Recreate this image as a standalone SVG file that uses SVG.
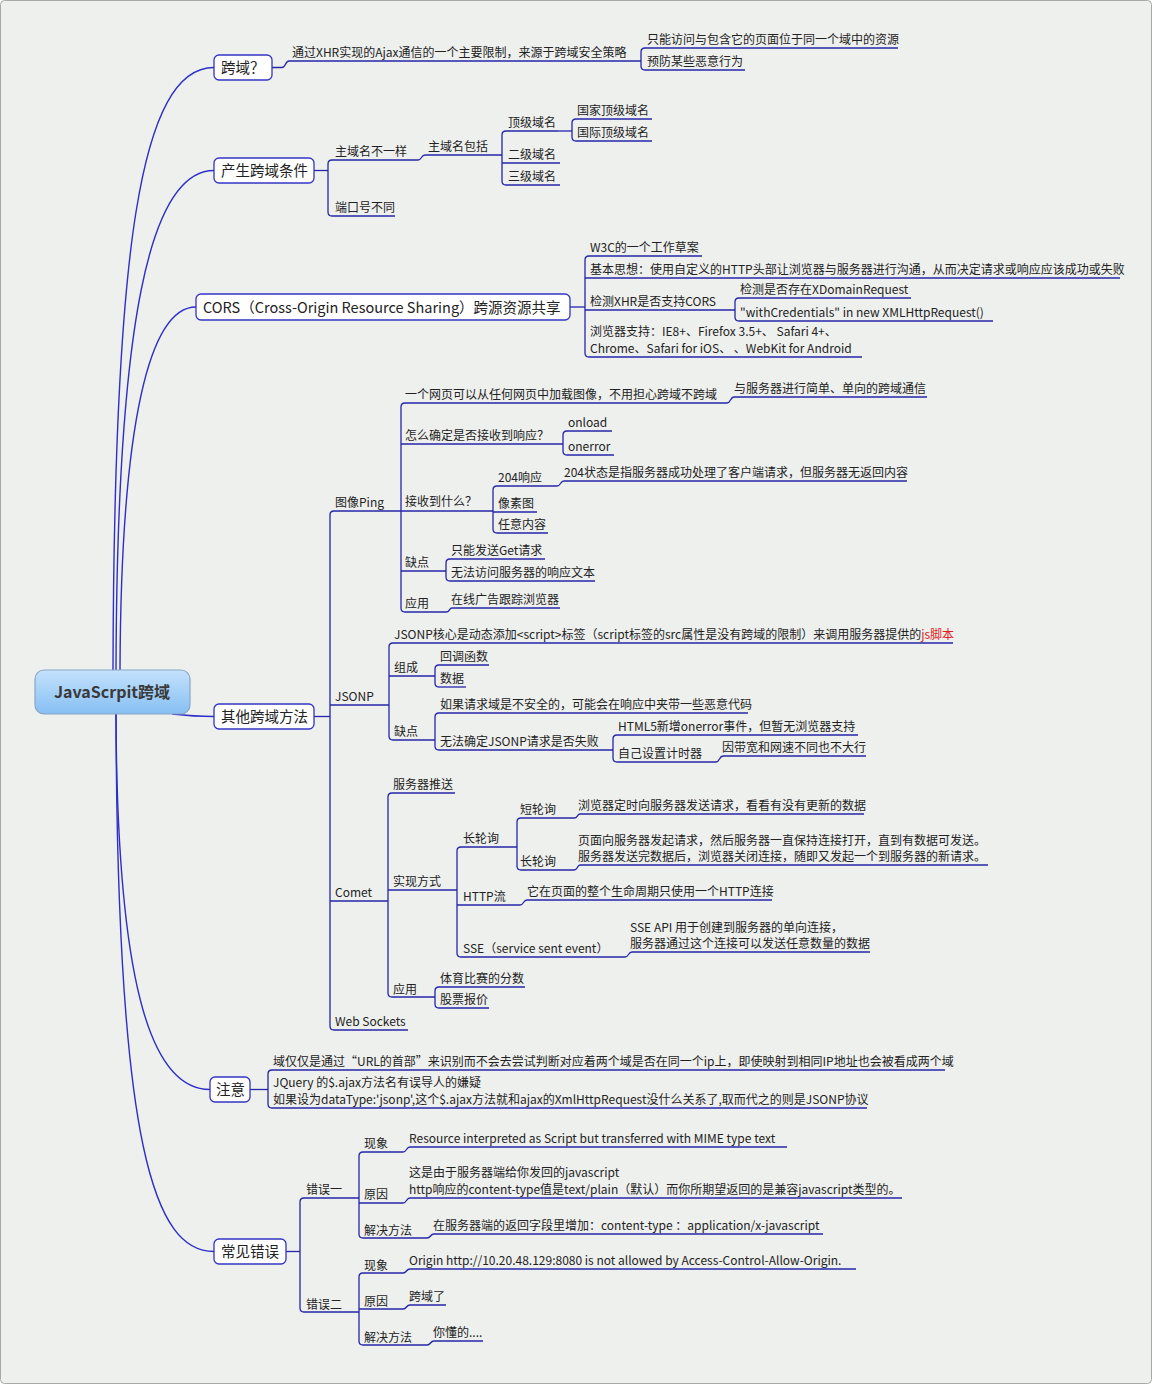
<svg xmlns="http://www.w3.org/2000/svg" width="1152" height="1384" viewBox="0 0 1152 1384">
<defs>
<linearGradient id="rootg" x1="0" y1="0" x2="0" y2="1">
<stop offset="0" stop-color="#c4e2fc"/>
<stop offset="1" stop-color="#86bff3"/>
</linearGradient>
<style>
text{font-family:"Noto Sans CJK SC","Noto Sans",sans-serif;font-size:12px;fill:#222}
.m{font-size:14.5px}
.r{font-size:16px;font-weight:bold;fill:#3a3a3a}
.u,.c{stroke:#2626aa;stroke-width:1.3;fill:none}
.mc{stroke:#2e2ec8;stroke-width:1.4;fill:none}
.box{fill:#fff;stroke:#3434c4;stroke-width:1.3}
.red{fill:#e02020}
</style>
</defs>
<rect x="0.5" y="0.5" width="1151" height="1383" rx="4" fill="#eef0ee" stroke="#a8a8a8"/>

<g id="connectors">
<path class="mc" d="M113 670 C114 250 140 67.5 214 67.5"/>
<path class="mc" d="M116 670 C117 320 150 170.5 214 170.5"/>
<path class="mc" d="M120 670 C121 420 150 307 196 307"/>
<path class="mc" d="M172 714 C190 716 200 716.5 214 716.5"/>
<path class="mc" d="M116 714 C117 1000 155 1089.5 210 1089.5"/>
<path class="mc" d="M116 714 C117 1150 155 1251.5 214 1251.5"/>
<path class="c" d="M272 67.5 H282 C286 67.5 285 61 289 61"/>
<path class="c" d="M645 48 Q641 48 641 52 V66 Q641 70 645 70"/>
<path class="c" d="M314 170.5 H328"/>
<path class="c" d="M332 160 Q328 160 328 164 V212 Q328 216 332 216"/>
<path class="c" d="M418 160 C422 160 421 155 425 155"/>
<path class="c" d="M506 131 Q502 131 502 135 V181 Q502 185 506 185"/>
<path class="c" d="M558 131 H572"/>
<path class="c" d="M576 119 Q572 119 572 123 V137 Q572 141 576 141"/>
<path class="c" d="M570 307 H585"/>
<path class="c" d="M589 256 Q585 256 585 260 V353 Q585 357 589 357"/>
<path class="c" d="M739 298 Q735 298 735 302 V317 Q735 321 739 321"/>
<path class="c" d="M314 716.5 H330"/>
<path class="c" d="M334 511 Q330 511 330 515 V1026 Q330 1030 334 1030"/>
<path class="c" d="M405 403 Q401 403 401 407 V608 Q401 612 405 612"/>
<path class="c" d="M727 403 C731 403 730 397 734 397"/>
<path class="c" d="M567 431 Q563 431 563 435 V451 Q563 455 567 455"/>
<path class="c" d="M497 486 Q493 486 493 490 V529 Q493 533 497 533"/>
<path class="c" d="M557 486 C561 486 560 481 564 481"/>
<path class="c" d="M450 559 Q446 559 446 563 V577 Q446 581 450 581"/>
<path class="c" d="M446 612 C450 612 449 608 452 608"/>
<path class="c" d="M393 643 Q389 643 389 647 V736 Q389 740 393 740"/>
<path class="c" d="M439 665 Q435 665 435 669 V683 Q435 687 439 687"/>
<path class="c" d="M439 713 Q435 713 435 717 V746 Q435 750 439 750"/>
<path class="c" d="M617 735 Q613 735 613 739 V758 Q613 762 617 762"/>
<path class="c" d="M716 762 C720 762 719 756 723 756"/>
<path class="c" d="M392 793 Q388 793 388 797 V993 Q388 997 392 997"/>
<path class="c" d="M461 847 Q457 847 457 851 V953 Q457 957 461 957"/>
<path class="c" d="M521 818 Q517 818 517 822 V866 Q517 870 521 870"/>
<path class="c" d="M574 818 C578 818 577 814 580 814"/>
<path class="c" d="M574 870 C578 870 577 865 580 865"/>
<path class="c" d="M520 905 C524 905 523 900 527 900"/>
<path class="c" d="M625 957 C629 957 628 952 632 952"/>
<path class="c" d="M439 987 Q435 987 435 991 V1004 Q435 1008 439 1008"/>
<path class="c" d="M250 1089.5 H268"/>
<path class="c" d="M272 1070 Q268 1070 268 1074 V1104 Q268 1108 272 1108"/>
<path class="c" d="M286 1251.5 H300"/>
<path class="c" d="M304 1198 Q300 1198 300 1202 V1308 Q300 1312 304 1312"/>
<path class="c" d="M363 1152 Q359 1152 359 1156 V1234 Q359 1238 363 1238"/>
<path class="c" d="M403 1152 C407 1152 406 1147 410 1147"/>
<path class="c" d="M403 1203 C407 1203 406 1198 410 1198"/>
<path class="c" d="M427 1238 C431 1238 430 1234 434 1234"/>
<path class="c" d="M363 1273 Q359 1273 359 1277 V1341 Q359 1345 363 1345"/>
<path class="c" d="M403 1273 C407 1273 406 1269 410 1269"/>
<path class="c" d="M403 1309 C407 1309 406 1305 410 1305"/>
<path class="c" d="M427 1345 C431 1345 430 1341 434 1341"/>
</g>

<g id="root">
<rect x="35" y="670" width="155" height="44" rx="9" fill="url(#rootg)" stroke="#8aa6c4" stroke-width="1.2"/>
<text class="r" x="112" y="698" text-anchor="middle">JavaScrpit跨域</text>
</g>

<g id="n-kuayu"><rect class="box" x="214" y="55" width="58" height="25" rx="5"/><text class="m" x="221" y="73">跨域？</text></g>
<g id="n-k1"><line class="u" x1="289" y1="61" x2="641" y2="61"/><text x="292" y="57">通过XHR实现的Ajax通信的一个主要限制，来源于跨域安全策略</text></g>
<g id="n-k2"><line class="u" x1="645" y1="48" x2="898" y2="48"/><text x="647" y="44">只能访问与包含它的页面位于同一个域中的资源</text></g>
<g id="n-k3"><line class="u" x1="645" y1="70" x2="745" y2="70"/><text x="647" y="66">预防某些恶意行为</text></g>

<g id="n-chansheng"><rect class="box" x="214" y="158" width="100" height="25" rx="5"/><text class="m" x="221" y="176">产生跨域条件</text></g>
<g id="n-c1"><line class="u" x1="332" y1="160" x2="418" y2="160"/><text x="335" y="156">主域名不一样</text></g>
<g id="n-c2"><line class="u" x1="332" y1="216" x2="395" y2="216"/><text x="335" y="212">端口号不同</text></g>
<g id="n-c3"><line class="u" x1="425" y1="155" x2="502" y2="155"/><text x="428" y="151">主域名包括</text></g>
<g id="n-c4"><line class="u" x1="506" y1="131" x2="558" y2="131"/><text x="508" y="127">顶级域名</text></g>
<g id="n-c5"><line class="u" x1="502" y1="163" x2="560" y2="163"/><text x="508" y="159">二级域名</text></g>
<g id="n-c6"><line class="u" x1="506" y1="185" x2="560" y2="185"/><text x="508" y="181">三级域名</text></g>
<g id="n-c7"><line class="u" x1="576" y1="119" x2="652" y2="119"/><text x="577" y="115">国家顶级域名</text></g>
<g id="n-c8"><line class="u" x1="576" y1="141" x2="652" y2="141"/><text x="577" y="137">国际顶级域名</text></g>

<g id="n-cors"><rect class="box" x="196" y="294" width="374" height="26" rx="5"/><text class="m" x="203" y="312.5">CORS（Cross-Origin Resource Sharing）跨源资源共享</text></g>
<g id="n-s1"><line class="u" x1="589" y1="256" x2="702" y2="256"/><text x="590" y="252">W3C的一个工作草案</text></g>
<g id="n-s2"><line class="u" x1="585" y1="278" x2="1120" y2="278"/><text x="590" y="274">基本思想：使用自定义的HTTP头部让浏览器与服务器进行沟通，从而决定请求或响应应该成功或失败</text></g>
<g id="n-s3"><line class="u" x1="585" y1="310" x2="735" y2="310"/><text x="590" y="306">检测XHR是否支持CORS</text></g>
<g id="n-s4"><line class="u" x1="739" y1="298" x2="911" y2="298"/><text x="740" y="294">检测是否存在XDomainRequest</text></g>
<g id="n-s5"><line class="u" x1="739" y1="321" x2="993" y2="321"/><text x="740" y="317">"withCredentials" in  new XMLHttpRequest()</text></g>
<g id="n-s6"><line class="u" x1="589" y1="357" x2="862" y2="357"/><text x="590" y="336">浏览器支持：IE8+、Firefox 3.5+、 Safari 4+、</text><text x="590" y="353">Chrome、Safari for iOS、 、WebKit for Android</text></g>

<g id="n-other"><rect class="box" x="214" y="704" width="100" height="25" rx="5"/><text class="m" x="221" y="722">其他跨域方法</text></g>
<g id="n-ping"><line class="u" x1="334" y1="511" x2="401" y2="511"/><text x="335" y="507">图像Ping</text></g>
<g id="n-p1"><line class="u" x1="405" y1="403" x2="727" y2="403"/><text x="405" y="399">一个网页可以从任何网页中加载图像，不用担心跨域不跨域</text></g>
<g id="n-p2"><line class="u" x1="734" y1="397" x2="927" y2="397"/><text x="734" y="393">与服务器进行简单、单向的跨域通信</text></g>
<g id="n-p3"><line class="u" x1="401" y1="444" x2="563" y2="444"/><text x="405" y="440">怎么确定是否接收到响应？</text></g>
<g id="n-p4"><line class="u" x1="567" y1="431" x2="612" y2="431"/><text x="568" y="427">onload</text></g>
<g id="n-p5"><line class="u" x1="567" y1="455" x2="614" y2="455"/><text x="568" y="451">onerror</text></g>
<g id="n-p6"><line class="u" x1="401" y1="511" x2="493" y2="511"/><text x="405" y="506">接收到什么？</text></g>
<g id="n-p7"><line class="u" x1="497" y1="486" x2="557" y2="486"/><text x="498" y="482">204响应</text></g>
<g id="n-p8"><line class="u" x1="564" y1="481" x2="907" y2="481"/><text x="564" y="477">204状态是指服务器成功处理了客户端请求，但服务器无返回内容</text></g>
<g id="n-p9"><line class="u" x1="493" y1="512" x2="537" y2="512"/><text x="498" y="508">像素图</text></g>
<g id="n-p10"><line class="u" x1="497" y1="533" x2="548" y2="533"/><text x="498" y="529">任意内容</text></g>
<g id="n-p11"><line class="u" x1="401" y1="571" x2="446" y2="571"/><text x="405" y="567">缺点</text></g>
<g id="n-p12"><line class="u" x1="450" y1="559" x2="545" y2="559"/><text x="451" y="555">只能发送Get请求</text></g>
<g id="n-p13"><line class="u" x1="450" y1="581" x2="595" y2="581"/><text x="451" y="577">无法访问服务器的响应文本</text></g>
<g id="n-p14"><line class="u" x1="405" y1="612" x2="446" y2="612"/><text x="405" y="608">应用</text></g>
<g id="n-p15"><line class="u" x1="452" y1="608" x2="560" y2="608"/><text x="451" y="604">在线广告跟踪浏览器</text></g>

<g id="n-jsonp"><line class="u" x1="330" y1="705" x2="389" y2="705"/><text x="335" y="701">JSONP</text></g>
<g id="n-j1"><line class="u" x1="393" y1="643" x2="953" y2="643"/><text x="394" y="639">JSONP核心是动态添加&lt;script&gt;标签（script标签的src属性是没有跨域的限制）来调用服务器提供的<tspan class="red">js脚本</tspan></text></g>
<g id="n-j2"><line class="u" x1="389" y1="676" x2="435" y2="676"/><text x="394" y="672">组成</text></g>
<g id="n-j3"><line class="u" x1="439" y1="665" x2="489" y2="665"/><text x="440" y="661">回调函数</text></g>
<g id="n-j4"><line class="u" x1="439" y1="687" x2="466" y2="687"/><text x="440" y="683">数据</text></g>
<g id="n-j5"><line class="u" x1="393" y1="740" x2="435" y2="740"/><text x="394" y="736">缺点</text></g>
<g id="n-j6"><line class="u" x1="439" y1="713" x2="748" y2="713"/><text x="440" y="709">如果请求域是不安全的，可能会在响应中夹带一些恶意代码</text></g>
<g id="n-j7"><line class="u" x1="439" y1="750" x2="613" y2="750"/><text x="440" y="746">无法确定JSONP请求是否失败</text></g>
<g id="n-j8"><line class="u" x1="617" y1="735" x2="858" y2="735"/><text x="618" y="731">HTML5新增onerror事件，但暂无浏览器支持</text></g>
<g id="n-j9"><line class="u" x1="617" y1="762" x2="716" y2="762"/><text x="618" y="758">自己设置计时器</text></g>
<g id="n-j10"><line class="u" x1="723" y1="756" x2="866" y2="756"/><text x="722" y="752">因带宽和网速不同也不大行</text></g>

<g id="n-comet"><line class="u" x1="330" y1="901" x2="388" y2="901"/><text x="335" y="897">Comet</text></g>
<g id="n-m1"><line class="u" x1="392" y1="793" x2="455" y2="793"/><text x="393" y="789">服务器推送</text></g>
<g id="n-m2"><line class="u" x1="388" y1="890" x2="457" y2="890"/><text x="393" y="886">实现方式</text></g>
<g id="n-m3"><line class="u" x1="461" y1="847" x2="517" y2="847"/><text x="463" y="843">长轮询</text></g>
<g id="n-m4"><line class="u" x1="521" y1="818" x2="574" y2="818"/><text x="520" y="814">短轮询</text></g>
<g id="n-m5"><line class="u" x1="580" y1="814" x2="864" y2="814"/><text x="578" y="810">浏览器定时向服务器发送请求，看看有没有更新的数据</text></g>
<g id="n-m6"><line class="u" x1="521" y1="870" x2="574" y2="870"/><text x="520" y="866">长轮询</text></g>
<g id="n-m7"><line class="u" x1="580" y1="865" x2="988" y2="865"/><text x="578" y="845">页面向服务器发起请求，然后服务器一直保持连接打开，直到有数据可发送。</text><text x="578" y="861">服务器发送完数据后，浏览器关闭连接，随即又发起一个到服务器的新请求。</text></g>
<g id="n-m8"><line class="u" x1="457" y1="905" x2="520" y2="905"/><text x="463" y="901">HTTP流</text></g>
<g id="n-m9"><line class="u" x1="527" y1="900" x2="772" y2="900"/><text x="527" y="896">它在页面的整个生命周期只使用一个HTTP连接</text></g>
<g id="n-m10"><line class="u" x1="461" y1="957" x2="625" y2="957"/><text x="463" y="953">SSE（service sent event）</text></g>
<g id="n-m11"><line class="u" x1="632" y1="952" x2="870" y2="952"/><text x="630" y="932">SSE API 用于创建到服务器的单向连接，</text><text x="630" y="948">服务器通过这个连接可以发送任意数量的数据</text></g>
<g id="n-m12"><line class="u" x1="392" y1="997" x2="435" y2="997"/><text x="393" y="994">应用</text></g>
<g id="n-m13"><line class="u" x1="439" y1="987" x2="525" y2="987"/><text x="440" y="983">体育比赛的分数</text></g>
<g id="n-m14"><line class="u" x1="439" y1="1008" x2="489" y2="1008"/><text x="440" y="1004">股票报价</text></g>
<g id="n-ws"><line class="u" x1="334" y1="1030" x2="408" y2="1030"/><text x="335" y="1026">Web Sockets</text></g>

<g id="n-notes"><rect class="box" x="210" y="1077" width="40" height="25" rx="5"/><text class="m" x="216" y="1095">注意</text></g>
<g id="n-z1"><line class="u" x1="272" y1="1070" x2="945" y2="1070"/><text x="273" y="1066">域仅仅是通过“URL的首部”来识别而不会去尝试判断对应着两个域是否在同一个ip上，即使映射到相同IP地址也会被看成两个域</text></g>
<g id="n-z2"><line class="u" x1="272" y1="1108" x2="867" y2="1108"/><text x="273" y="1087">JQuery 的$.ajax方法名有误导人的嫌疑</text><text x="273" y="1104">如果设为dataType:'jsonp',这个$.ajax方法就和ajax的XmlHttpRequest没什么关系了,取而代之的则是JSONP协议</text></g>

<g id="n-errors"><rect class="box" x="214" y="1239" width="72" height="25" rx="5"/><text class="m" x="221" y="1257">常见错误</text></g>
<g id="n-e1"><line class="u" x1="304" y1="1198" x2="359" y2="1198"/><text x="306" y="1194">错误一</text></g>
<g id="n-e2"><line class="u" x1="363" y1="1152" x2="403" y2="1152"/><text x="364" y="1148">现象</text></g>
<g id="n-e3"><line class="u" x1="410" y1="1147" x2="787" y2="1147"/><text x="409" y="1143">Resource interpreted as Script but transferred with MIME type text</text></g>
<g id="n-e4"><line class="u" x1="359" y1="1203" x2="403" y2="1203"/><text x="364" y="1199">原因</text></g>
<g id="n-e5"><line class="u" x1="410" y1="1198" x2="902" y2="1198"/><text x="409" y="1177">这是由于服务器端给你发回的javascript</text><text x="409" y="1194">http响应的content-type值是text/plain（默认）而你所期望返回的是兼容javascript类型的。</text></g>
<g id="n-e6"><line class="u" x1="363" y1="1238" x2="427" y2="1238"/><text x="364" y="1235">解决方法</text></g>
<g id="n-e7"><line class="u" x1="434" y1="1234" x2="823" y2="1234"/><text x="433" y="1230">在服务器端的返回字段里增加：content-type ：application/x-javascript</text></g>
<g id="n-e8"><line class="u" x1="304" y1="1312" x2="359" y2="1312"/><text x="306" y="1309">错误二</text></g>
<g id="n-e9"><line class="u" x1="363" y1="1273" x2="403" y2="1273"/><text x="364" y="1270">现象</text></g>
<g id="n-e10"><line class="u" x1="410" y1="1269" x2="856" y2="1269"/><text x="409" y="1265">Origin http://10.20.48.129:8080 is not allowed by Access-Control-Allow-Origin.</text></g>
<g id="n-e11"><line class="u" x1="359" y1="1309" x2="403" y2="1309"/><text x="364" y="1306">原因</text></g>
<g id="n-e12"><line class="u" x1="410" y1="1305" x2="446" y2="1305"/><text x="409" y="1301">跨域了</text></g>
<g id="n-e13"><line class="u" x1="363" y1="1345" x2="427" y2="1345"/><text x="364" y="1342">解决方法</text></g>
<g id="n-e14"><line class="u" x1="434" y1="1341" x2="483" y2="1341"/><text x="433" y="1337">你懂的....</text></g>
</svg>
